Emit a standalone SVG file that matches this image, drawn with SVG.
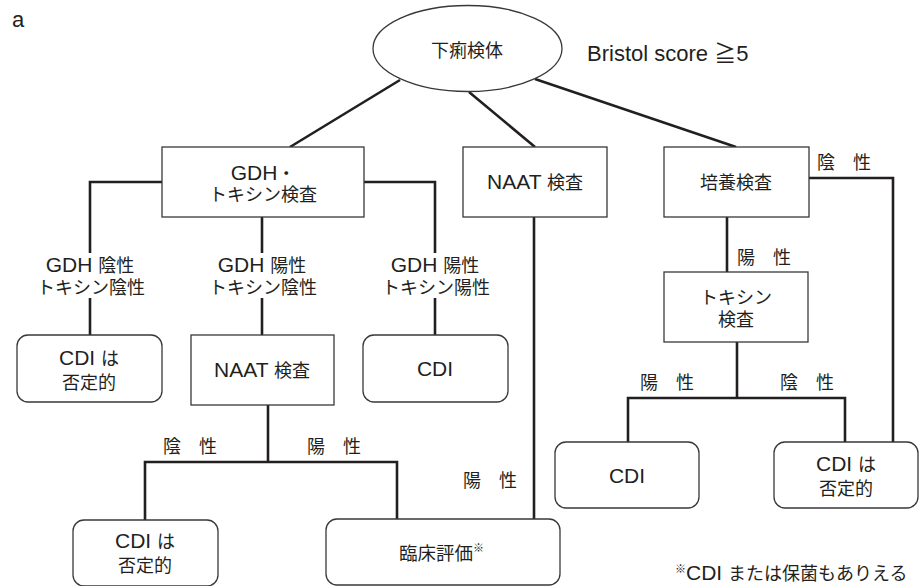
<svg xmlns="http://www.w3.org/2000/svg" width="919" height="586" viewBox="0 0 919 586">
<style>
text{font-family:"Liberation Sans","Noto Sans CJK JP",sans-serif;font-size:18px;fill:#231f20}
.m{text-anchor:middle}
.l{font-size:21px}
.box{fill:#fff;stroke:#3a3738;stroke-width:1.3}
.con line,.con polyline{stroke:#231f20;stroke-width:2.6;fill:none}
</style>
<rect width="919" height="586" fill="#fff"/>
<text x="12" y="27" style="font-size:22px">a</text>
<g class="con">
<line x1="400" y1="80" x2="290" y2="147"/>
<line x1="469" y1="92" x2="535" y2="147"/>
<line x1="535" y1="79" x2="736" y2="147"/>
<polyline points="162,182 90,182 90,253"/>
<line x1="90" y1="298" x2="90" y2="335"/>
<line x1="262" y1="217" x2="262" y2="253"/>
<line x1="262" y1="298" x2="262" y2="335"/>
<polyline points="364,182 435,182 435,253"/>
<line x1="435" y1="298" x2="435" y2="335"/>
<line x1="268" y1="405" x2="268" y2="462"/>
<polyline points="145,520 145,462 397,462 397,520"/>
<line x1="534" y1="217" x2="534" y2="519"/>
<polyline points="809,178 893,178 893,442"/>
<line x1="727" y1="217" x2="727" y2="272"/>
<line x1="737" y1="342" x2="737" y2="398"/>
<polyline points="628,442 628,398 845,398 845,442"/>
</g>
<g id="n-specimen"><ellipse class="box" cx="467.5" cy="48.5" rx="94.5" ry="43"/><text class="m" x="467" y="57">下痢検体</text></g>
<text x="587" y="61" style="font-size:22px">Bristol score ≧5</text>
<g id="n-gdh"><rect class="box" x="162" y="147" width="202" height="70"/><text class="m" x="263" y="180"><tspan class="l">GDH</tspan>・</text><text class="m" x="263" y="201">トキシン検査</text></g>
<g id="n-naat1"><rect class="box" x="463" y="147" width="144" height="70"/><text class="m" x="535" y="189"><tspan class="l">NAAT </tspan>検査</text></g>
<g id="n-culture"><rect class="box" x="664" y="147" width="145" height="70"/><text class="m" x="736" y="189">培養検査</text></g>
<text x="817" y="169">陰　性</text>
<text x="737" y="264">陽　性</text>
<g id="n-toxin"><rect class="box" x="664" y="272" width="144" height="70"/><text class="m" x="736" y="304">トキシン</text><text class="m" x="736" y="326">検査</text></g>
<text x="640" y="389">陽　性</text>
<text x="780" y="389">陰　性</text>
<g id="n-cdi3"><rect class="box" x="555" y="442" width="144" height="66" rx="11"/><text class="m l" x="627" y="483">CDI</text></g>
<g id="n-neg3"><rect class="box" x="774" y="442" width="144" height="66" rx="11"/><text class="m" x="846" y="471"><tspan class="l">CDI </tspan>は</text><text class="m" x="846" y="495">否定的</text></g>
<text class="m" x="90" y="272"><tspan class="l">GDH </tspan>陰性</text><text class="m" x="91" y="294">トキシン陰性</text>
<text class="m" x="262" y="272"><tspan class="l">GDH </tspan>陽性</text><text class="m" x="263" y="294">トキシン陰性</text>
<text class="m" x="435" y="272"><tspan class="l">GDH </tspan>陽性</text><text class="m" x="436" y="294">トキシン陽性</text>
<g id="n-neg1"><rect class="box" x="17" y="335" width="145" height="67" rx="11"/><text class="m" x="89" y="365"><tspan class="l">CDI </tspan>は</text><text class="m" x="89" y="389">否定的</text></g>
<g id="n-naat2"><rect class="box" x="191" y="335" width="143" height="70"/><text class="m" x="262" y="377"><tspan class="l">NAAT </tspan>検査</text></g>
<g id="n-cdi1"><rect class="box" x="363" y="335" width="145" height="67" rx="11"/><text class="m l" x="435" y="376">CDI</text></g>
<text x="163" y="453">陰　性</text>
<text x="307" y="453">陽　性</text>
<text x="463" y="487">陽　性</text>
<g id="n-neg2"><rect class="box" x="73" y="520" width="145" height="66" rx="11"/><text class="m" x="145" y="548"><tspan class="l">CDI </tspan>は</text><text class="m" x="145" y="572">否定的</text></g>
<g id="n-clinical"><rect class="box" x="326" y="519" width="234" height="66" rx="11"/><text x="399" y="560" style="font-size:18.5px">臨床評価<tspan dy="-8" style="font-size:11px">※</tspan></text></g>
<text x="675" y="580"><tspan dy="-7" style="font-size:11px">※</tspan><tspan dy="7" class="l">CDI </tspan>または保菌もありえる</text>
</svg>
